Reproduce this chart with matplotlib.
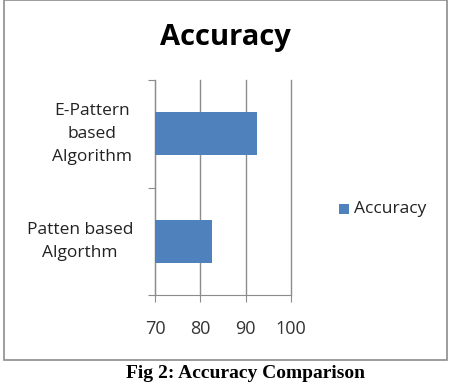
import matplotlib
matplotlib.use("Agg")
import matplotlib.pyplot as plt
from matplotlib.patches import Rectangle

categories = ["Patten based\nAlgorthm", "E-Pattern\nbased\nAlgorithm"]
values = [82.6, 92.4]
series_name = "Accuracy"
xticks = [70, 80, 90, 100]
title = "Accuracy"
caption = "Fig 2: Accuracy Comparison"

W, H = 451, 384
fig = plt.figure(figsize=(W/100, H/100), dpi=100)
fig.patch.set_facecolor("white")

# chart border
fig.add_artist(Rectangle((4/W, 1 - 360/H), 443/W, 360/H, transform=fig.transFigure,
                         fill=False, edgecolor="#8c8c8c", linewidth=1.2))

ax = fig.add_axes([155/W, 1 - 295/H, 136/W, 215/H])
color = "#4f81bd"
ypos = list(range(len(categories)))
ax.barh(ypos, [v - 70 for v in values], left=70, height=0.4, color=color, label=series_name, zorder=3)
ax.set_xlim(70, 100)
ax.set_ylim(-0.5, 1.5)
ax.set_xticks(xticks)
ax.set_xticklabels([str(t) for t in xticks], fontsize=13, family="Open Sans", color="#333333")
ax.set_yticks([-0.5, 0.5, 1.5])
ax.set_yticklabels([])
ax.tick_params(axis="y", length=5, color="#8c8c8c", direction="out")
ax.tick_params(axis="x", length=5, color="#8c8c8c", direction="out", pad=13)
label_x = [80, 92]
for y, c, lx in zip(ypos, categories, label_x):
    ax.text((lx - 155) / 136, y, c, transform=ax.get_yaxis_transform(), ha="center", va="center",
            fontsize=12.5, family="Open Sans", color="#222222", linespacing=1.6)
ax.xaxis.grid(True, color="#8c8c8c", linewidth=1.0, zorder=0)
for s in ["top", "right"]:
    ax.spines[s].set_visible(False)
for s in ["left", "bottom"]:
    ax.spines[s].set_color("#8c8c8c")
ax.set_facecolor("none")
for gl in ax.get_xgridlines():
    gl.set_clip_on(False)

fig.text(225/W, 1 - 38/H, title, ha="center", va="center", fontsize=21, fontweight="bold",
         family="Open Sans", color="black")

# legend
fig.add_artist(Rectangle((339/W, 1 - 214/H), 10/W, 10/H, transform=fig.transFigure,
                         facecolor=color, edgecolor="none"))
fig.text(354/W, 1 - 209/H, series_name, ha="left", va="center", fontsize=12.5,
         family="Open Sans", color="#222222")

fig.text(245/W, 1 - 374/H, caption, ha="center", va="center", fontsize=14, fontweight="bold",
         family="Liberation Serif", color="black")

fig.savefig("out.png", dpi=100)
